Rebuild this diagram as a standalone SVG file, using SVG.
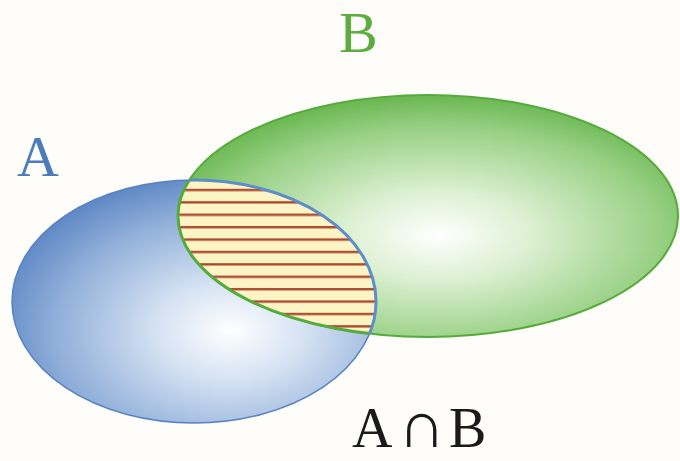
<svg xmlns="http://www.w3.org/2000/svg" width="680" height="461" viewBox="0 0 680 461">
  <style>
    .lbl { font-family: "Liberation Serif", "DejaVu Serif", serif; }
  </style>
  <defs>
    <radialGradient id="gradA" cx="0.6" cy="0.62" r="0.66" fx="0.6" fy="0.62">
      <stop offset="0" stop-color="#ffffff"/>
      <stop offset="0.3" stop-color="#d6e3f3"/>
      <stop offset="0.72" stop-color="#92b0da"/>
      <stop offset="1" stop-color="#5d87c4"/>
    </radialGradient>
    <radialGradient id="gradB" cx="0.52" cy="0.58" r="0.62" fx="0.52" fy="0.58">
      <stop offset="0" stop-color="#ffffff"/>
      <stop offset="0.3" stop-color="#dcf0d2"/>
      <stop offset="0.72" stop-color="#98d084"/>
      <stop offset="1" stop-color="#5cb042"/>
    </radialGradient>
    <pattern id="hatch" patternUnits="userSpaceOnUse" x="0" y="184" width="680" height="12.4">
      <rect x="0" y="0" width="680" height="12.4" fill="#fdf4c6"/>
      <rect x="0" y="4.8" width="680" height="2.4" fill="#ad4a2e"/>
    </pattern>
    <clipPath id="clipA">
      <ellipse cx="194" cy="301.5" rx="182" ry="121.5"/>
    </clipPath>
    <clipPath id="clipB">
      <ellipse cx="428" cy="216" rx="250" ry="121"/>
    </clipPath>
  </defs>
  <rect x="0" y="0" width="680" height="461" fill="#fffdf9"/>

  <g id="nodeA">
    <ellipse cx="194" cy="301.5" rx="182" ry="121.5" fill="url(#gradA)" stroke="#5683c2" stroke-width="1.5"/>
  </g>

  <g id="nodeB">
    <ellipse cx="428" cy="216" rx="250" ry="121" fill="url(#gradB)" stroke="#55ab3c" stroke-width="2"/>
  </g>

  <g id="intersection">
    <ellipse cx="428" cy="216" rx="250" ry="121" fill="url(#hatch)" clip-path="url(#clipA)"/>
    <ellipse cx="428" cy="216" rx="250" ry="121" fill="none" stroke="#55ab3c" stroke-width="3" clip-path="url(#clipA)"/>
    <ellipse cx="194" cy="301.5" rx="182" ry="121.5" fill="none" stroke="#5b8ecb" stroke-width="3" clip-path="url(#clipB)"/>
  </g>

  <g id="labels">
    <text class="lbl" x="17" y="176" font-size="58" fill="#4c7cbc">A</text>
    <text class="lbl" x="339" y="52" font-size="58" fill="#5aad3e">B</text>
    <text class="lbl" font-size="56" fill="#1a1a1a"><tspan x="352" y="447">A</tspan><tspan x="398" y="447" font-size="66">∩</tspan><tspan x="449" y="447">B</tspan></text>
  </g>
</svg>
